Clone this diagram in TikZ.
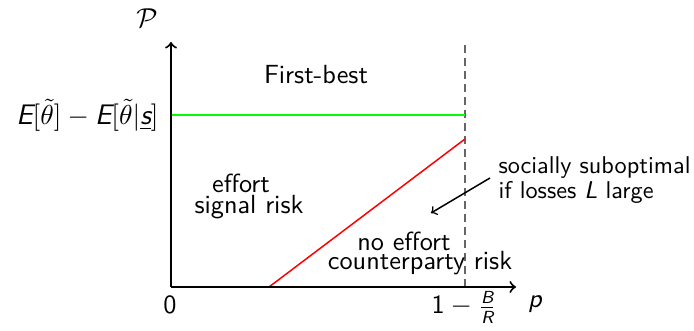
\documentclass[tikz,border=0pt]{standalone}
\renewcommand{\familydefault}{\sfdefault}
\newcommand{\sv}[1]{\mbox{\itshape #1}}
\newcommand{\ssv}[1]{\mbox{\scriptsize\itshape #1}}
\begin{document}
\begin{tikzpicture}[x=0.4pt,y=-0.4pt,
  lbl/.style={font=\fontsize{10.5}{12.6}\selectfont,inner sep=0pt},
  note/.style={font=\fontsize{9.7}{12}\selectfont,inner sep=0pt},
  biglbl/.style={font=\fontsize{11.3}{13.5}\selectfont,inner sep=0pt},
  axis/.style={thick,->},
  guide/.style={gray!80!black,dash pattern=on 3pt off 2.2pt,semithick}]
\useasboundingbox (0,0) rectangle (694,331);
\coordinate (O) at (171,287);
\coordinate (ytop) at (171,42);
\coordinate (xend) at (516,287);
\coordinate (dtop) at (465,42);
\coordinate (dbot) at (465,287);
\coordinate (g0) at (171,115);
\coordinate (g1) at (465,115);
\coordinate (r0) at (269,287);
\coordinate (r1) at (465,139);
\coordinate (a0) at (490,178);
\coordinate (a1) at (431,213);
\draw[guide] (dbot) -- (dtop);
\draw[green,semithick] (g0) -- (g1);
\draw[red,semithick] (r0) -- (r1);
\draw[axis] (O) -- (ytop);
\draw[axis] (O) -- (xend);
\draw[semithick,->] (a0) -- (a1);
\node[lbl,anchor=base] (P) at (147,28) {$\mathcal{P}$};
\node[biglbl,anchor=east] (Elbl) at (159,115) {$\sv{E}[\tilde{\theta}]-\sv{E}[\tilde{\theta}|\underline{\sv{s}}]$};
\node[lbl,anchor=base] (fb) at (316,84) {First-best};
\node[lbl,anchor=base] (eff1) at (241,193) {effort};
\node[lbl,anchor=base] (eff2) at (249,214) {signal risk};
\node[lbl,anchor=base] (ne1) at (404,251) {no effort};
\node[lbl,anchor=base] (ne2) at (420,270) {counterparty risk};
\node[note,anchor=base west] (so1) at (498,174) {socially suboptimal};
\node[note,anchor=base west] (so2) at (498,199) {if losses \sv{L} large};
\node[lbl,anchor=base] (zero) at (170,314) {0};
\node[lbl,anchor=base] (pl) at (535,308) {\sv{p}};
\node[lbl,anchor=base] (br) at (464,314) {$\mbox{1}-\frac{\ssv{B}}{\ssv{R}}$};
\end{tikzpicture}
\end{document}
